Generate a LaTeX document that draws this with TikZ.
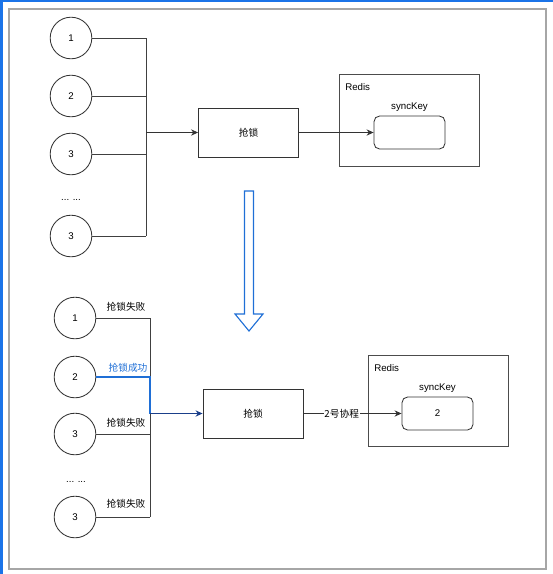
\documentclass[tikz,border=0pt]{standalone}
\usepackage{fontspec}
\setmainfont{Liberation Sans}
\newfontfamily\cjk{Noto Sans CJK SC}
\usetikzlibrary{arrows.meta}

\definecolor{frameblue}{HTML}{1A73E8}
\definecolor{okblue}{HTML}{1F6FD6}
\definecolor{darkblue}{HTML}{1A3F8A}

\begin{document}
\begin{tikzpicture}[x=0.025cm, y=-0.025cm,
    font=\fontsize{6.9}{8.3}\selectfont,
    worker/.style={draw=black!80, circle, minimum size=1.04cm, inner sep=0pt, line width=0.6pt},
    lockbox/.style={draw=black!80, rectangle, minimum width=2.5cm, minimum height=1.225cm, line width=0.6pt, font=\fontsize{6.9}{8.3}\selectfont\cjk},
    redisbox/.style={draw=black!70, rectangle, minimum width=3.5cm, minimum height=2.28cm, line width=0.6pt},
    keybox/.style={draw=black!80, rectangle, rounded corners=4pt, minimum width=1.775cm, minimum height=0.825cm, line width=0.6pt},
    wire/.style={draw=black!75, line width=0.6pt},
    arrow/.style={-{Stealth[length=5pt, width=4.5pt]}, draw=black!80, line width=0.6pt},
    tag/.style={font=\fontsize{6.9}{8.3}\selectfont\cjk, inner sep=1pt}
]
\useasboundingbox (0,0) rectangle (553,574);

% frame
\fill[frameblue] (0,0) rectangle (553,2);
\fill[frameblue] (0,0) rectangle (3,574);
\draw[gray!70, line width=1pt] (9,9) rectangle (546,569);

% before
\node[worker] (t1) at (71,38) {1};
\node[worker] (t2) at (71,96) {2};
\node[worker] (t3) at (71,154) {3};
\node (tdots) at (71,200) {... ...};
\node[worker] (t4) at (71,236) {3};
\coordinate (joinA) at (146,132.5);
\foreach \n in {t1,t2,t3,t4}
  \draw[wire] (\n.east) -- (\n.east -| joinA);
\draw[wire] (t1.east -| joinA) -- (t4.east -| joinA);

\node[lockbox] (lockA) at (248.5,132.5) {抢锁};
\draw[arrow] (joinA) -- (lockA.west);

\node[redisbox] (redisA) at (409.5,120.5) {};
\node[anchor=west, inner sep=0pt] (redisAtxt) at (345,87) {Redis};
\node[keybox] (keyA) at (409.5,132.5) {};
\node[anchor=south, inner sep=1pt] (keyAtxt) at (409.5,113) {syncKey};
\draw[arrow] (lockA.east) -- (keyA.west);

% hollow arrow
\draw[okblue, line width=0.8pt, line join=miter]
  (244.5,191) -- (253.5,191) -- (253.5,314) -- (263,314) -- (249,331)
  -- (235,314) -- (244.5,314) -- cycle;

% after
\node[worker] (b1) at (75,318) {1};
\node[worker] (b2) at (75,377) {2};
\node[worker] (b3) at (75,434) {3};
\node (bdots) at (76,482) {... ...};
\node[worker] (b4) at (75,517) {3};
\coordinate (joinB) at (150,413.5);
\foreach \n in {b1,b3,b4}
  \draw[wire] (\n.east) -- (\n.east -| joinB);
\draw[wire] (b1.east -| joinB) -- (b4.east -| joinB);
\draw[okblue, line width=0.8pt] (b2.east) -- (b2.east -| joinB) -- (joinB);

\node[tag] (fail1) at (126,307) {抢锁失败};
\node[tag, text=okblue] (win2) at (128,368) {抢锁成功};
\node[tag] (fail3) at (126,423) {抢锁失败};
\node[tag] (fail4) at (126,504) {抢锁失败};

\node[lockbox] (lockB) at (253,413.5) {抢锁};
\draw[arrow, draw=darkblue, fill=darkblue, line width=0.9pt] (joinB) -- (lockB.west);

\node[redisbox] (redisB) at (438,401) {};
\node[anchor=west, inner sep=0pt] (redisBtxt) at (374,368) {Redis};
\node[keybox] (keyB) at (437.5,413.5) {2};
\node[anchor=south, inner sep=1pt] (keyBtxt) at (437.5,394) {syncKey};
\draw[arrow] (lockB.east) -- node[pos=0.39, fill=white, inner sep=0.5pt, font=\fontsize{6.9}{8.3}\selectfont\cjk] (coro) {2号协程} (keyB.west);

\end{tikzpicture}
\end{document}
